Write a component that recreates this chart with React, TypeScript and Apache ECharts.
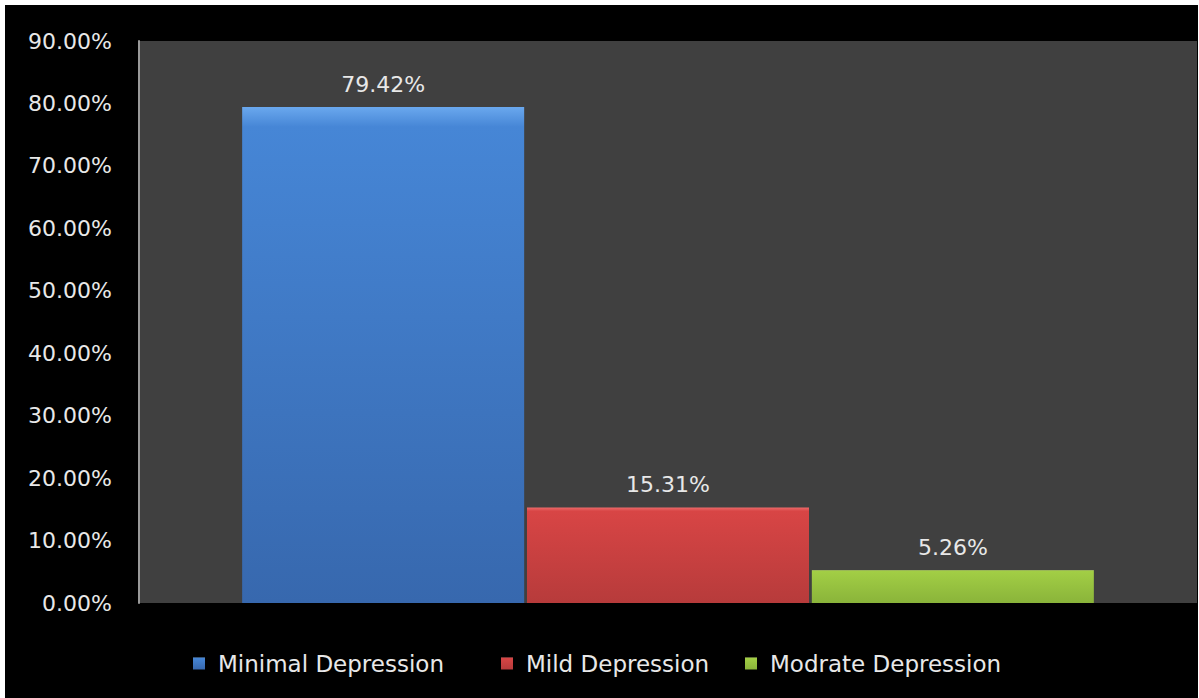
import React, { useEffect, useRef } from "react";
import * as echarts from "echarts";

const seriesNames = ["Minimal Depression", "Mild Depression", "Modrate Depression"];
const seriesValues = [79.42, 15.31, 5.26];
const categories = [""];
const yTicks = { min: 0, max: 90, interval: 10 };

const gradients: [string, string, string][] = [
  ["#6aa8ee", "#4686d6", "#3768ae"],
  ["#ec6a6a", "#d84545", "#b73b3b"],
  ["#c0e468", "#a2ce45", "#8ab43a"],
];

const legendLefts = [188, 496, 740];

const FONT = "DejaVu Sans";
const FS = 23;

export default function App() {
  const ref = useRef<HTMLDivElement>(null);
  useEffect(() => {
    if (!ref.current) return;
    const chart = echarts.init(ref.current, null, { renderer: "svg" });
    const series = seriesNames.map((name, i) => ({
      name,
      type: "bar",
      data: [seriesValues[i]],
      barGap: "1%",
      barCategoryGap: "19.5%",
      itemStyle: {
        color: new echarts.graphic.LinearGradient(0, 0, 0, 1, [
          { offset: 0, color: gradients[i][0] },
          { offset: 0.04, color: gradients[i][1] },
          { offset: 1, color: gradients[i][2] },
        ]),
      },
      label: {
        show: true,
        position: "top",
        distance: 12,
        color: "#e8e8e8",
        fontFamily: FONT,
        fontSize: FS - 1,
        formatter: (p: any) => p.value.toFixed(2) + "%",
      },
    }));
    const legends = seriesNames.map((name, i) => ({
      left: legendLefts[i],
      top: 647,
      padding: 0,
      itemWidth: 12,
      itemHeight: 12,
      icon: "rect",
      textStyle: {
        color: "#e8e8e8",
        fontFamily: FONT,
        fontSize: FS,
        padding: [0, 0, 0, 8],
      },
      data: [name],
    }));
    chart.setOption({
      animation: false,
      backgroundColor: "#000000",
      grid: {
        left: 134,
        top: 36,
        right: 1,
        bottom: 95,
        show: true,
        backgroundColor: "#404040",
        borderWidth: 0,
      },
      legend: legends,
      xAxis: {
        type: "category",
        data: categories,
        axisLine: { show: false },
        axisTick: { show: false },
        axisLabel: { show: false },
      },
      yAxis: {
        type: "value",
        min: yTicks.min,
        max: yTicks.max,
        interval: yTicks.interval,
        axisLine: { show: true, lineStyle: { color: "#9a9a9a", width: 2 } },
        axisTick: { show: false },
        splitLine: { show: false },
        axisLabel: {
          color: "#e8e8e8",
          fontFamily: FONT,
          fontSize: FS - 1,
          margin: 27,
          verticalAlign: "middle",
          lineHeight: 26,
          padding: [6, 0, 0, 0],
          formatter: (v: number) => v.toFixed(2) + "%",
        },
      },
      series,
    });
    return () => chart.dispose();
  }, []);
  return (
    <div
      style={{
        position: "fixed",
        left: 0,
        top: 0,
        width: 1199,
        height: 698,
        background: "#ffffff",
      }}
    >
      <div
        ref={ref}
        style={{ position: "absolute", left: 5, top: 5, width: 1193, height: 693 }}
      />
    </div>
  );
}
